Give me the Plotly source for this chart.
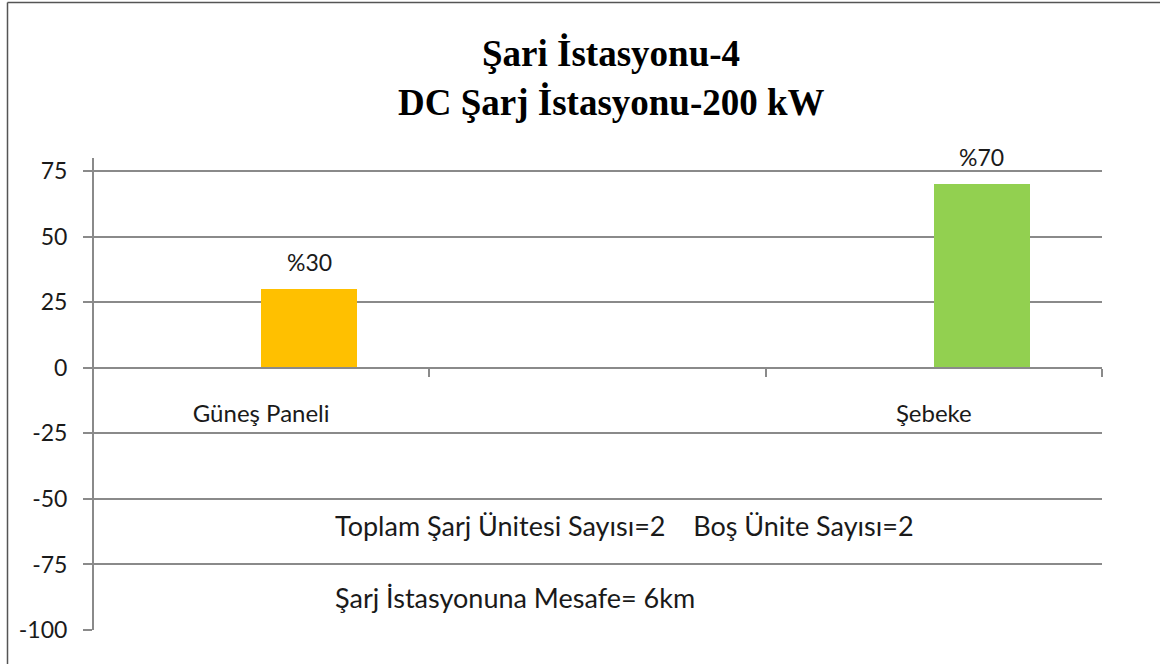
import plotly.graph_objects as go

# ---- data ----
categories = ["Güneş Paneli", " ", "Şebeke"]
values = [30, None, 70]
bar_colors = ["#FFC000", "rgba(0,0,0,0)", "#92D050"]
value_labels = ["%30", "", "%70"]
y_tickvals = [-100, -75, -50, -25, 0, 25, 50, 75]
y_ticktext = ["-100", "-75", "-50", "-25", "0", "25", "50", "75"]
title_line1 = "Şari İstasyonu-4"
title_line2 = "DC Şarj İstasyonu-200 kW"
note_line1 = "Toplam Şarj Ünitesi Sayısı=2    Boş Ünite Sayısı=2"
note_line2 = "Şarj İstasyonuna Mesafe= 6km"
y_min, y_max = -100, 80

# ---- layout geometry (pixels) ----
W, H = 1160, 664
L, R, T, B = 93, 1102, 158, 630
PW, PH = R - L, B - T


def px_x(px):
    return (px - L) / PW


def px_y(py):
    return (B - py) / PH


GRID = "#8a8a8a"
TXT = "#1a1a1a"
SANS = "Lato, 'Open Sans', sans-serif"
SERIF = "'Liberation Serif', 'Times New Roman', serif"
BAR_W = 0.2855

fig = go.Figure()
fig.add_trace(go.Bar(
    x=categories, y=values,
    marker=dict(color=bar_colors, line=dict(width=0)),
    width=BAR_W, offset=0,
    hoverinfo="skip", showlegend=False,
))

# data labels above the bars
for c, v, t in zip(categories, values, value_labels):
    if v is None or not t:
        continue
    fig.add_annotation(
        x=c, y=v, xref="x", yref="y", text=t, showarrow=False,
        xshift=BAR_W / 2 * PW / 3, yshift=27,
        font=dict(family=SANS, size=23, color=TXT),
        xanchor="center", yanchor="middle",
    )

zero_pos = (0 - y_min) / (y_max - y_min)

fig.update_layout(
    width=W, height=H,
    margin=dict(l=L, r=W - R, t=T, b=H - B, pad=0),
    plot_bgcolor="white", paper_bgcolor="white",
    bargap=0,
    xaxis=dict(
        type="category", categoryorder="array", categoryarray=categories,
        range=[-0.5, 2.5], anchor="free", position=zero_pos,
        showline=True, linecolor=GRID, linewidth=2,
        ticks="outside", tickson="boundaries", ticklen=8, tickwidth=2,
        tickcolor=GRID, showgrid=False, zeroline=False,
        ticklabelstandoff=24,
        tickfont=dict(family=SANS, size=24, color=TXT),
    ),
    yaxis=dict(
        range=[y_min, y_max], tickvals=y_tickvals, ticktext=y_ticktext,
        anchor="free", position=0,
        showline=True, linecolor=GRID, linewidth=2,
        ticks="outside", ticklen=9, tickwidth=2, tickcolor=GRID,
        showgrid=True, gridcolor=GRID, gridwidth=2,
        zeroline=False,
        ticklabelstandoff=11,
        tickfont=dict(family=SANS, size=23, color=TXT),
    ),
)

# title lines
for txt, py in [(title_line1, 54), (title_line2, 103)]:
    fig.add_annotation(
        x=px_x(611), y=px_y(py), xref="paper", yref="paper", text=txt,
        showarrow=False, xanchor="center", yanchor="middle",
        font=dict(family=SERIF, size=37, color="black", weight="bold"),
    )

# text boxes
for txt, py in [(note_line1, 525), (note_line2, 597)]:
    fig.add_annotation(
        x=px_x(333), y=px_y(py), xref="paper", yref="paper", text=txt,
        showarrow=False, xanchor="left", yanchor="middle",
        font=dict(family=SANS, size=27, color=TXT),
    )

# outer chart border (left and top edges visible)
fig.add_shape(type="line", xref="paper", yref="paper",
              x0=px_x(7.5), x1=px_x(7.5), y0=px_y(2.5), y1=px_y(700),
              line=dict(color="#555555", width=1.5))
fig.add_shape(type="line", xref="paper", yref="paper",
              x0=px_x(7.5), x1=px_x(1200), y0=px_y(2.5), y1=px_y(2.5),
              line=dict(color="#555555", width=1.5))

fig.write_html("out.html", config={"displayModeBar": False},
               post_script="document.body.style.margin='0';")
